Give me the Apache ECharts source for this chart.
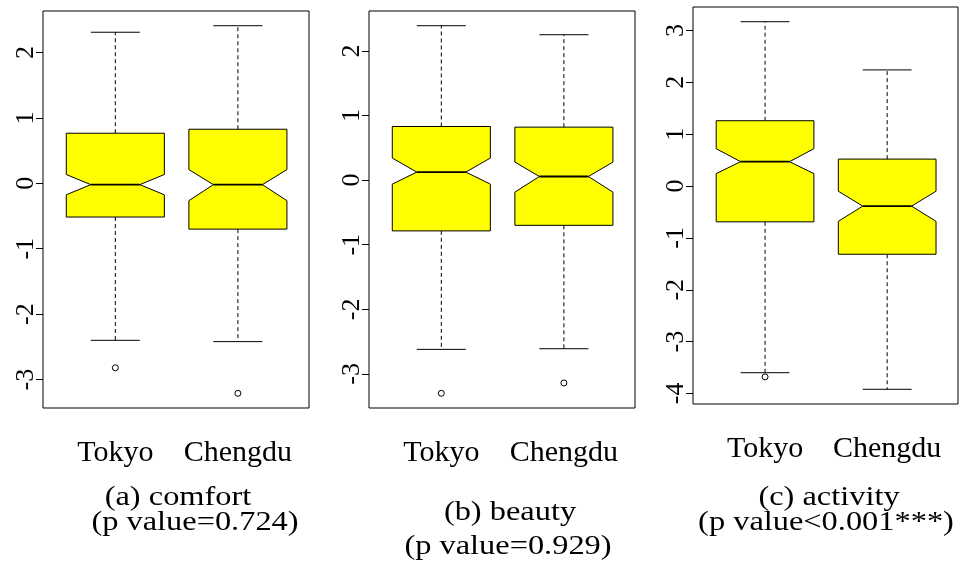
<!DOCTYPE html>
<html>
<head>
<meta charset="utf-8">
<script src="https://cdn.jsdelivr.net/npm/echarts@6/dist/echarts.min.js"></script>
<style>
  html, body { margin: 0; padding: 0; background: #fff; }
  #chart { width: 962px; height: 561px; }
</style>
</head>
<body>
<div id="chart"></div>
<script>
// Cities compared in every panel
const cities = ['Tokyo', 'Chengdu'];

// Per city: [lower whisker, Q1, median, Q3, upper whisker]
const comfortStats = [[-2.40, -0.515, -0.02, 0.766, 2.31], [-2.42, -0.70, -0.02, 0.827, 2.41]];
const beautyStats = [[-2.62, -0.786, 0.124, 0.83, 2.39], [-2.61, -0.70, 0.056, 0.82, 2.25]];
const activityStats = [[-3.60, -0.69, 0.47, 1.26, 3.17], [-3.92, -1.315, -0.387, 0.52, 2.24]];

// Per city: [notch low, notch high] around the median
const comfortNotch = [[-0.175, 0.135], [-0.265, 0.21]];
const beautyNotch = [[-0.062, 0.341], [-0.186, 0.279]];
const activityNotch = [[0.24, 0.72], [-0.68, -0.10]];

// Per city: outlying points
const comfortOutliers = [[-2.82], [-3.21]];
const beautyOutliers = [[-3.30], [-3.14]];
const activityOutliers = [[-3.68], []];

// Tick labels on the value axes
const ticksComfort = [-3, -2, -1, 0, 1, 2];
const ticksBeauty = [-3, -2, -1, 0, 1, 2];
const ticksActivity = [-4, -3, -2, -1, 0, 1, 2, 3];

// Captions under each panel
const captions = [
  ['(a) comfort', '(p value=0.724)'],
  ['(b) beauty', '(p value=0.929)'],
  ['(c) activity', '(p value<0.001***)']
];

const panels = [
  { stats: comfortStats, notch: comfortNotch, outliers: comfortOutliers, ticks: ticksComfort,
    grid: { left: 43, top: 11, width: 266, height: 397 } },
  { stats: beautyStats, notch: beautyNotch, outliers: beautyOutliers, ticks: ticksBeauty,
    grid: { left: 369, top: 11, width: 266, height: 397 } },
  { stats: activityStats, notch: activityNotch, outliers: activityOutliers, ticks: ticksActivity,
    grid: { left: 693, top: 7, width: 265, height: 397 } }
];

const SERIF = '"Liberation Serif", "Times New Roman", serif';

// y range: data range padded by 4% on each side
function yRange(p) {
  const vals = [];
  p.stats.forEach(s => vals.push(s[0], s[4]));
  p.outliers.forEach(o => o.forEach(v => vals.push(v)));
  const lo = Math.min(...vals), hi = Math.max(...vals);
  const pad = (hi - lo) * 0.04;
  return [lo - pad, hi + pad];
}

// Notched box with dashed whiskers and end caps
function renderBox(params, api) {
  const x = api.value(0);
  const lo = api.value(1), q1 = api.value(2), med = api.value(3), q3 = api.value(4), hi = api.value(5);
  const nLo = api.value(6), nHi = api.value(7);
  const hw = 0.4, nw = 0.2, cw = 0.2;
  const P = (dx, y) => api.coord([x + dx, y]);
  const lineStyle = { stroke: '#000', lineWidth: 1 };
  const dash = { stroke: '#000', lineWidth: 1, lineDash: [4, 3] };
  const seg = (a, b, st) => ({ type: 'line', shape: { x1: a[0], y1: a[1], x2: b[0], y2: b[1] }, style: st });
  return {
    type: 'group',
    children: [
      seg(P(0, q3), P(0, hi), dash),
      seg(P(0, q1), P(0, lo), dash),
      seg(P(-cw, hi), P(cw, hi), lineStyle),
      seg(P(-cw, lo), P(cw, lo), lineStyle),
      {
        type: 'polygon',
        shape: { points: [P(-hw, q3), P(hw, q3), P(hw, nHi), P(nw, med), P(hw, nLo), P(hw, q1),
                          P(-hw, q1), P(-hw, nLo), P(-nw, med), P(-hw, nHi)] },
        style: { fill: '#ffff00', stroke: '#000', lineWidth: 1 }
      },
      seg(P(-nw, med), P(nw, med), { stroke: '#000', lineWidth: 1.8 })
    ]
  };
}

const grids = [], xAxes = [], yAxes = [], series = [], graphics = [];

panels.forEach((p, i) => {
  grids.push(Object.assign({ show: true, borderColor: '#000', borderWidth: 1, backgroundColor: 'transparent' }, p.grid));
  xAxes.push({
    gridIndex: i, type: 'value', min: 0.41, max: 2.58,
    splitLine: { show: false }, axisLine: { show: false },
    axisTick: { show: true, length: 7, lineStyle: { color: '#000' }, customValues: [1, 2] },
    axisLabel: { customValues: [1, 2], formatter: v => cities[Math.round(v) - 1],
                 fontSize: 30, fontFamily: SERIF, color: '#000', margin: 30 }
  });
  const yr = yRange(p);
  yAxes.push({
    gridIndex: i, type: 'value', min: yr[0], max: yr[1],
    splitLine: { show: false }, axisLine: { show: false },
    axisTick: { show: true, length: 7, lineStyle: { color: '#000' }, customValues: p.ticks },
    axisLabel: { customValues: p.ticks, rotate: 90, formatter: v => String(v),
                 fontSize: 26, fontFamily: SERIF, color: '#000', margin: 4 }
  });
  const boxData = p.stats.map((s, k) => [k + 1, s[0], s[1], s[2], s[3], s[4], p.notch[k][0], p.notch[k][1]]);
  series.push({
    type: 'custom', xAxisIndex: i, yAxisIndex: i, renderItem: renderBox, data: boxData,
    encode: { x: 0, y: [1, 2, 3, 4, 5] }, silent: true, z: 2
  });
  const pts = [];
  p.outliers.forEach((o, k) => o.forEach(v => pts.push([k + 1, v])));
  series.push({
    type: 'scatter', xAxisIndex: i, yAxisIndex: i, data: pts, symbol: 'circle', symbolSize: 6,
    itemStyle: { color: '#fff', borderColor: '#000', borderWidth: 1, opacity: 1 }, silent: true, z: 3
  });
});

// Caption lines under each panel
const captionPos = [[[178, 498], [195, 523]], [[510, 513], [508, 547]], [[829, 498], [826, 523]]];
captions.forEach((lines, i) => {
  lines.forEach((t, j) => {
    graphics.push({
      type: 'text', x: captionPos[i][j][0], y: captionPos[i][j][1], scaleX: 1.2,
      style: { text: t, x: 0, y: 0, align: 'center', verticalAlign: 'middle',
               font: '27px ' + SERIF, fill: '#000' }
    });
  });
});

const chart = echarts.init(document.getElementById('chart'), null, { renderer: 'canvas' });
chart.setOption({
  animation: false,
  backgroundColor: '#fff',
  grid: grids,
  xAxis: xAxes,
  yAxis: yAxes,
  series: series,
  graphic: graphics
});
</script>
</body>
</html>
